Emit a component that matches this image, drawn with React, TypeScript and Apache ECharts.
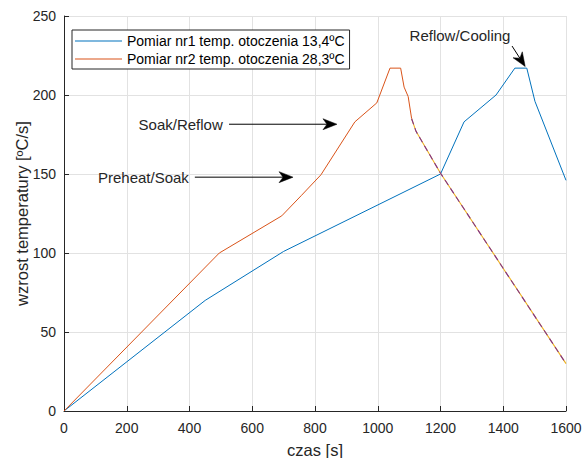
import React, { useEffect, useRef } from "react";
import * as echarts from "echarts";

const FONT = '"Liberation Sans", Arial, Helvetica, sans-serif';

const xTicks = { min: 0, max: 1600, interval: 200 };
const yTicks = { min: 0, max: 250, interval: 50 };

const seriesNames = [
  "Pomiar nr1 temp. otoczenia 13,4ºC",
  "Pomiar nr2 temp. otoczenia 28,3ºC",
];

const pomiar1: [number, number][] = [
  [0, 0], [450, 70], [700, 101], [1200, 150], [1275, 183], [1377, 200],
  [1437, 217], [1475, 217], [1501, 196], [1600, 146],
];

const pomiar2: [number, number][] = [
  [0, 0], [495, 100], [694, 123.5], [757, 136.5], [819, 149.5], [927, 183],
  [997, 195], [1039, 217], [1073, 217], [1084, 205], [1097, 199], [1108, 185],
];

const cooling: [number, number][] = [
  [1108, 185], [1122, 177], [1200, 150.5], [1600, 30],
];

const annotations = [
  { text: "Preheat/Soak", textAt: [398, 148], from: [417, 148], to: [730, 148] },
  { text: "Soak/Reflow", textAt: [506, 181.5], from: [526, 181.5], to: [870, 181.5] },
  { text: "Reflow/Cooling", textAt: [1423, 237.5], from: [1428, 231], to: [1470, 218] },
];

const colors = { blue: "#0072BD", red: "#D95319", yellow: "#EDB120", purple: "#7E2F8E" };

const LEGEND_ICON = "path://M0,0 L47,0 L47,1.2 L0,1.2 Z";

export default function App() {
  const ref = useRef<HTMLDivElement>(null);
  useEffect(() => {
    if (!ref.current) return;
    const chart = echarts.init(ref.current, undefined, { renderer: "svg" });
    const axisCommon = {
      type: "value" as const,
      nameLocation: "middle" as const,
      nameMoveOverlap: false,
      nameTextStyle: { fontSize: 16.5, color: "#262626", fontFamily: FONT },
      axisLine: { show: true, onZero: false, lineStyle: { color: "#262626", width: 1 } },
      axisTick: { show: true, inside: true, length: 5, lineStyle: { color: "#262626" } },
      splitLine: { show: true, lineStyle: { color: "#e2e2e2", width: 1 } },
    };
    const option: any = {
      animation: false,
      backgroundColor: "#ffffff",
      grid: { left: 64, right: 17, top: 16, bottom: 47, containLabel: false, outerBoundsMode: "none" },
      xAxis: {
        ...axisCommon,
        ...xTicks,
        name: "czas [s]",
        nameGap: 30,
        axisLabel: { margin: 10, fontSize: 14, color: "#262626", fontFamily: FONT, formatter: (v: number) => String(v) },
      },
      yAxis: {
        ...axisCommon,
        ...yTicks,
        name: "wzrost temperatury [ºC/s]",
        nameGap: 34,
        axisLabel: { margin: 8, fontSize: 14, color: "#262626", fontFamily: FONT, formatter: (v: number) => String(v) },
      },
      legend: {
        data: [
          { name: seriesNames[0], icon: LEGEND_ICON, itemStyle: { color: colors.blue } },
          { name: seriesNames[1], icon: LEGEND_ICON, itemStyle: { color: colors.red } },
        ],
        orient: "vertical",
        left: 72,
        top: 30,
        itemWidth: 47,
        itemHeight: 14,
        itemGap: 4,
        padding: [4, 5, 3, 3],
        borderColor: "#262626",
        borderWidth: 1,
        backgroundColor: "#ffffff",
        textStyle: { fontSize: 14, color: "#000", fontFamily: FONT },
      },
      series: [
        {
          name: seriesNames[0], type: "line", data: pomiar1, symbol: "none",
          lineStyle: { color: colors.blue, width: 1 }, itemStyle: { color: colors.blue }, z: 3,
        },
        {
          name: seriesNames[1], type: "line", data: pomiar2, symbol: "none",
          lineStyle: { color: colors.red, width: 1 }, itemStyle: { color: colors.red }, z: 3,
        },
        {
          name: "cooling-a", type: "line", data: cooling, symbol: "none",
          lineStyle: { color: colors.yellow, width: 1.1 }, z: 4,
        },
        {
          name: "cooling-b", type: "line", data: cooling, symbol: "none",
          lineStyle: { color: colors.purple, width: 1.1, type: [6, 4] }, z: 5,
        },
      ],
    };
    chart.setOption(option);

    const graphics: any[] = [];
    annotations.forEach((a) => {
      const t = chart.convertToPixel({ gridIndex: 0 }, a.textAt) as number[];
      const p0 = chart.convertToPixel({ gridIndex: 0 }, a.from) as number[];
      const p1 = chart.convertToPixel({ gridIndex: 0 }, a.to) as number[];
      const dx = p1[0] - p0[0];
      const dy = p1[1] - p0[1];
      const len = Math.sqrt(dx * dx + dy * dy);
      const ux = dx / len, uy = dy / len;
      const nx = -uy, ny = ux;
      const L = 14, W = 5.5, N = 4;
      const bx = p1[0] - L * ux, by = p1[1] - L * uy;
      const mx = p1[0] - (L - N) * ux, my = p1[1] - (L - N) * uy;
      graphics.push({
        type: "line",
        shape: { x1: p0[0], y1: p0[1], x2: mx, y2: my },
        style: { stroke: "#000", lineWidth: 1 },
        z: 10,
      });
      graphics.push({
        type: "polygon",
        shape: { points: [[p1[0], p1[1]], [bx + W * nx, by + W * ny], [mx, my], [bx - W * nx, by - W * ny]] },
        style: { fill: "#000", stroke: "#000", lineWidth: 0.5 },
        z: 10,
      });
      graphics.push({
        type: "text",
        x: t[0],
        y: t[1],
        style: {
          text: a.text,
          fontSize: 15,
          fontFamily: FONT,
          fill: "#262626",
          align: "right",
          verticalAlign: "middle",
          textAlign: "right",
          textVerticalAlign: "middle",
        },
        z: 10,
      });
    });
    chart.setOption({ graphic: graphics });

    return () => chart.dispose();
  }, []);
  return (
    <div
      ref={ref}
      style={{ position: "fixed", left: 0, top: 0, width: 583, height: 458, background: "#fff" }}
    />
  );
}
